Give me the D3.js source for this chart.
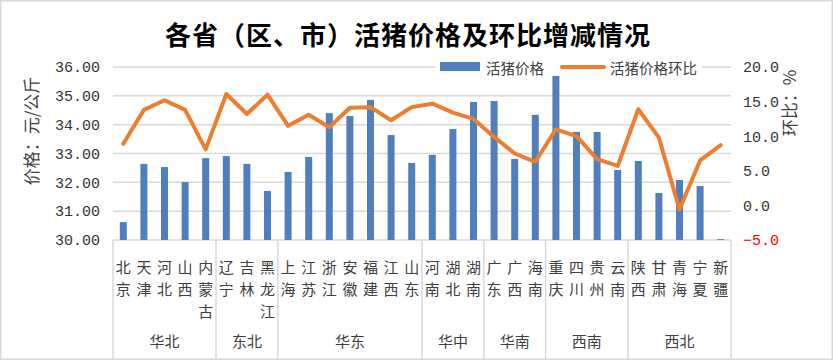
<!DOCTYPE html>
<html><head><meta charset="utf-8">
<script src="https://cdn.jsdelivr.net/npm/d3@7"></script>
<style>
html,body{margin:0;padding:0;background:#fff;}
svg{display:block;}
</style></head>
<body>
<svg id="chart" width="833" height="360"></svg>
<script>
const provinces = ["北京","天津","河北","山西","内蒙古","辽宁","吉林","黑龙江","上海","江苏","浙江","安徽","福建","江西","山东","河南","湖北","湖南","广东","广西","海南","重庆","四川","贵州","云南","陕西","甘肃","青海","宁夏","新疆"];
const regionNames = ["华北","东北","华东","华中","华南","西南","西北"];
const regionSizes = [5,3,7,3,3,4,5];
const prices = [30.62,32.64,32.53,32.01,32.84,32.91,32.64,31.70,32.36,32.88,34.40,34.30,34.86,33.64,32.67,32.95,33.85,34.79,34.82,32.81,34.34,35.69,33.75,33.75,32.43,32.74,31.63,32.08,31.87,30.03];
const momChange = [8.9,13.8,15.2,13.8,8.1,16.1,13.2,16.0,11.5,13.1,11.3,14.1,14.2,12.3,14.2,14.7,13.4,12.5,9.9,7.5,6.3,11.0,10.0,6.7,5.7,13.9,9.8,-0.6,6.5,8.7];
const leftTicks = [30,31,32,33,34,35,36];
const rightTicks = [-5,0,5,10,15,20];
const seriesNames = ["活猪价格","活猪价格环比"];
const titleText = "各省（区、市）活猪价格及环比增减情况";
const leftAxisTitle = "价格：元/公斤";
const rightAxisTitle = "环比：%";

const W = 833, H = 360;
const plot = {left:113, right:731, top:67, bottom:240};
const cjk = "'Noto Sans CJK SC','Noto Sans',sans-serif";
const mono = "'Liberation Mono','DejaVu Sans Mono',monospace";
const gridColor = "#d9d9d9";
const barColor = "#4f7fbd";
const lineColor = "#ed7d31";

const svg = d3.select("#chart");
svg.append("rect").attr("x",0.75).attr("y",0.75).attr("width",W-1.5).attr("height",H-1.5)
  .attr("fill","#fff").attr("stroke",gridColor).attr("stroke-width",1.5);

const x = d3.scaleBand().domain(provinces).range([plot.left, plot.right]).padding(0);
const yL = d3.scaleLinear().domain([30,36]).range([plot.bottom, plot.top]);
const yR = d3.scaleLinear().domain([-5,20]).range([plot.bottom, plot.top]);

// gridlines
svg.append("g").selectAll("line").data(leftTicks).join("line")
  .attr("x1",plot.left).attr("x2",plot.right)
  .attr("y1",d=>yL(d)).attr("y2",d=>yL(d))
  .attr("stroke",gridColor).attr("stroke-width",1.5);

// left axis
const gL = svg.append("g").attr("transform",`translate(${plot.left},0)`)
  .call(d3.axisLeft(yL).tickValues(leftTicks).tickFormat(d3.format(".2f")).tickSize(0).tickPadding(13));
gL.select(".domain").remove();
gL.selectAll("text").attr("font-family",mono).attr("font-size",15).attr("fill","#333");

// right axis
const gR = svg.append("g").attr("transform",`translate(${plot.right},0)`)
  .call(d3.axisRight(yR).tickValues(rightTicks).tickFormat(d3.format(".1f")).tickSize(0).tickPadding(12));
gR.select(".domain").remove();
gR.selectAll("text").attr("font-family",mono).attr("font-size",15).attr("fill",d=>d<0?"#ff0000":"#333");

// bars
const bw = 7;
svg.append("g").selectAll("rect").data(provinces).join("rect")
  .attr("x",(d)=>x(d)+x.bandwidth()/2-bw/2)
  .attr("width",bw)
  .attr("y",(d,i)=>yL(prices[i]))
  .attr("height",(d,i)=>yL(30)-yL(prices[i]))
  .attr("fill",barColor);

// line
const line = d3.line().x((d,i)=>x(provinces[i])+x.bandwidth()/2).y(d=>yR(d));
svg.append("path").datum(momChange).attr("d",line)
  .attr("fill","none").attr("stroke",lineColor).attr("stroke-width",4)
  .attr("stroke-linejoin","round").attr("stroke-linecap","round");

// category axis: separators
let bounds = [0];
regionSizes.forEach(s=>bounds.push(bounds[bounds.length-1]+s));
const bx = i => i<provinces.length ? x(provinces[i]) : plot.right;
svg.append("g").selectAll("line").data(bounds).join("line")
  .attr("x1",d=>bx(d)).attr("x2",d=>bx(d))
  .attr("y1",plot.bottom).attr("y2",H-1)
  .attr("stroke",gridColor).attr("stroke-width",1.5);

// province labels (vertical characters)
const catG = svg.append("g").attr("font-family",cjk).attr("font-size",15).attr("fill","#404040").attr("text-anchor","middle");
provinces.forEach(p=>{
  Array.from(p).forEach((ch,j)=>{
    catG.append("text").attr("x",x(p)+x.bandwidth()/2).attr("y",266+j*22)
      .attr("dominant-baseline","central").text(ch);
  });
});
// region labels
svg.append("g").selectAll("text").data(regionNames).join("text")
  .attr("x",(d,i)=>(bx(bounds[i])+bx(bounds[i+1]))/2)
  .attr("y",340).attr("dominant-baseline","central").attr("text-anchor","middle")
  .attr("font-family",cjk).attr("font-size",15).attr("fill","#404040").text(d=>d);

// title
svg.append("text").attr("x",408).attr("y",33).attr("text-anchor","middle").attr("dominant-baseline","central")
  .attr("font-family",cjk).attr("font-weight","bold").attr("font-size",26).attr("letter-spacing",1)
  .attr("fill","#000").text(titleText);

// axis titles
svg.append("text").attr("transform","translate(30,131) rotate(-90)")
  .attr("text-anchor","middle").attr("dominant-baseline","central")
  .attr("font-family",cjk).attr("font-size",17).attr("fill","#404040").text(leftAxisTitle);
svg.append("text").attr("transform","translate(788,103) rotate(-90)")
  .attr("text-anchor","middle").attr("dominant-baseline","central")
  .attr("font-family",cjk).attr("font-size",17).attr("fill","#404040").text(rightAxisTitle);

// legend
const lg = svg.append("g");
lg.append("rect").attr("x",436).attr("y",58).attr("width",266).attr("height",18).attr("fill","#fff");
lg.append("rect").attr("x",440).attr("y",62).attr("width",40).attr("height",9).attr("fill",barColor);
lg.append("text").attr("x",486).attr("y",67).attr("dominant-baseline","central")
  .attr("font-family",cjk).attr("font-size",14.5).attr("fill","#404040").text(seriesNames[0]);
lg.append("line").attr("x1",562).attr("x2",604).attr("y1",67).attr("y2",67)
  .attr("stroke",lineColor).attr("stroke-width",4).attr("stroke-linecap","round");
lg.append("text").attr("x",610).attr("y",67).attr("dominant-baseline","central")
  .attr("font-family",cjk).attr("font-size",14.5).attr("fill","#404040").text(seriesNames[1]);
</script>
</body></html>
